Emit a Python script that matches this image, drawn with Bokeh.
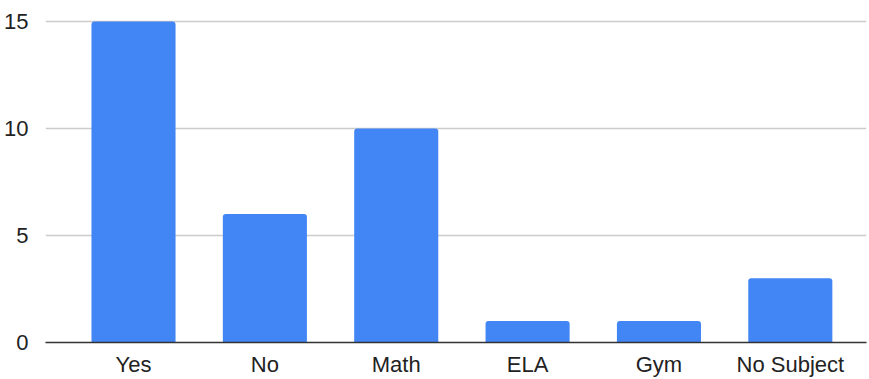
from bokeh.plotting import figure
from bokeh.models import Range1d, FixedTicker, ColumnDataSource
from bokeh.embed import file_html
from bokeh.resources import INLINE

categories = ["Yes", "No", "Math", "ELA", "Gym", "No Subject"]
counts = [15, 6, 10, 1, 1, 3]
y_ticks = [0, 5, 10, 15]

xs = list(range(len(categories)))
src = ColumnDataSource(dict(x=xs, top=counts, cat=categories))

p = figure(width=869, height=379, output_backend="svg", toolbar_location=None,
           x_range=Range1d(-0.67, 5.58), y_range=Range1d(0, 15.51),
           min_border_left=45, min_border_right=3, min_border_top=10, min_border_bottom=36)
p.outline_line_color = None
p.background_fill_color = "white"
p.border_fill_color = "white"

p.vbar(x="x", top="top", bottom=0, width=0.64, source=src,
       fill_color="#4285F4", line_color=None, border_radius=(3, 3, 0, 0))

p.xaxis.ticker = FixedTicker(ticks=xs)
p.xaxis.major_label_overrides = {i: c for i, c in enumerate(categories)}
p.yaxis.ticker = FixedTicker(ticks=y_ticks)

for ax in (p.xaxis[0], p.yaxis[0]):
    ax.major_tick_line_color = None
    ax.minor_tick_line_color = None
    ax.major_label_text_font = "Liberation Sans"
    ax.major_label_text_font_size = "22px"
    ax.major_label_text_color = "#222222"
p.yaxis.axis_line_color = None
p.yaxis.major_label_standoff = 11
p.xaxis.axis_line_color = "#333333"
p.xaxis.axis_line_width = 1.5
p.xaxis.major_label_standoff = 3

p.xgrid.grid_line_color = None
p.ygrid.ticker = FixedTicker(ticks=y_ticks)
p.ygrid.grid_line_color = "#cccccc"
p.ygrid.grid_line_width = 1.5

open("out.html", "w").write(file_html(p, INLINE))
